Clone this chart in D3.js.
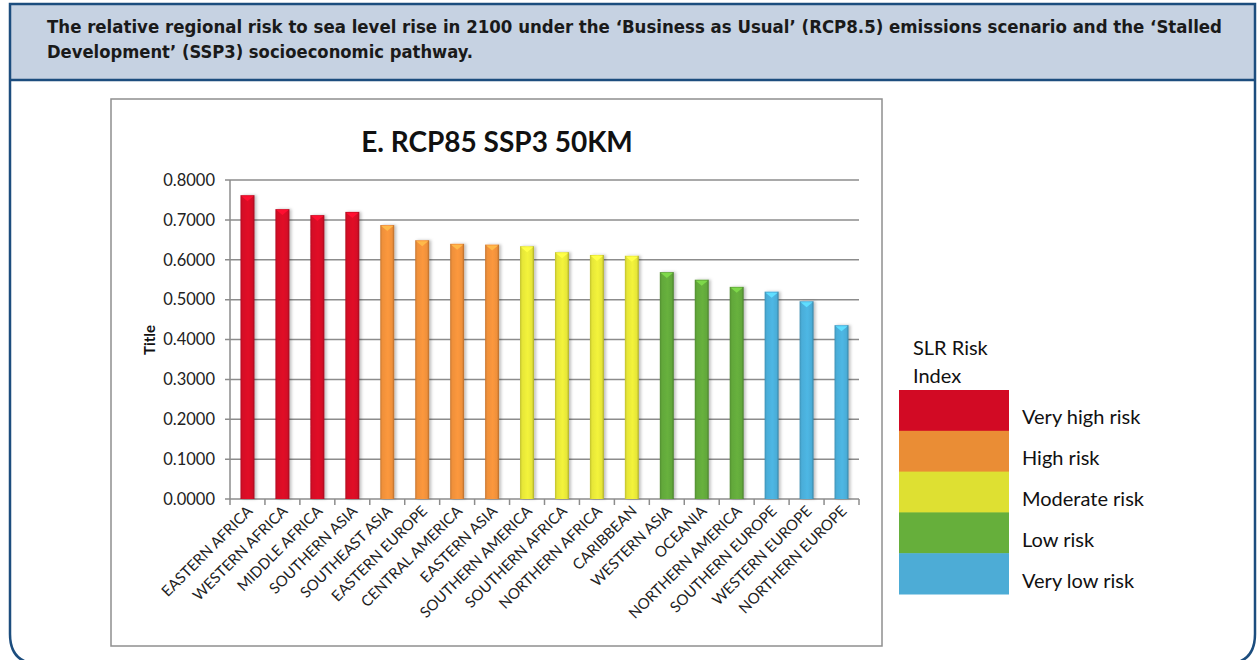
<!DOCTYPE html>
<html>
<head>
<meta charset="utf-8">
<script src="https://cdn.jsdelivr.net/npm/d3@7"></script>
<style>
  body { margin: 0; background: #fff; }
  svg { display: block; }
</style>
</head>
<body>
<svg id="chart" width="1257" height="660"></svg>
<script>
(function() {
  // data
  var regions = ["EASTERN AFRICA", "WESTERN AFRICA", "MIDDLE AFRICA", "SOUTHERN ASIA",
    "SOUTHEAST ASIA", "EASTERN EUROPE", "CENTRAL AMERICA", "EASTERN ASIA",
    "SOUTHERN AMERICA", "SOUTHERN AFRICA", "NORTHERN AFRICA", "CARIBBEAN",
    "WESTERN ASIA", "OCEANIA", "NORTHERN AMERICA", "SOUTHERN EUROPE",
    "WESTERN EUROPE", "NORTHERN EUROPE"];
  var riskValues = [0.762, 0.727, 0.712, 0.720, 0.687, 0.649, 0.640, 0.638,
    0.634, 0.619, 0.612, 0.610, 0.569, 0.550, 0.532, 0.520, 0.496, 0.436];
  var riskClass = [0, 0, 0, 0, 1, 1, 1, 1, 2, 2, 2, 2, 3, 3, 3, 4, 4, 4];
  var classNames = ["Very high risk", "High risk", "Moderate risk", "Low risk", "Very low risk"];
  var classColors = ["#d20a24", "#ea8d35", "#dee032", "#66af3b", "#4dacd6"];
  var barColors = ["#d50c26", "#ef903a", "#e6e638", "#62a83a", "#4aadd8"];
  var yTicks = [0, 0.1, 0.2, 0.3, 0.4, 0.5, 0.6, 0.7, 0.8];

  var headerLines = [
    "The relative regional risk to sea level rise in 2100 under the \u2018Business as Usual\u2019 (RCP8.5) emissions scenario and the \u2018Stalled",
    "Development\u2019 (SSP3) socioeconomic pathway."
  ];

  var svg = d3.select("#chart");
  var font = "Lato, 'Open Sans', sans-serif";

  // outer frame with header band
  var bx0 = 10, bx1 = 1255, by0 = 4, by1 = 664, r = 30;
  svg.append("rect")
      .attr("x", bx0).attr("y", by0)
      .attr("width", bx1 - bx0).attr("height", 76)
      .attr("fill", "#c6d2e2");
  svg.append("path")
      .attr("d", `M${bx0},${by0} L${bx1},${by0} L${bx1},${by1 - r} Q${bx1},${by1} ${bx1 - r},${by1} L${bx0 + r},${by1} Q${bx0},${by1} ${bx0},${by1 - r} Z`)
      .attr("fill", "none")
      .attr("stroke", "#1c4d7e")
      .attr("stroke-width", 2.5);
  svg.append("line")
      .attr("x1", bx0).attr("x2", bx1)
      .attr("y1", 80).attr("y2", 80)
      .attr("stroke", "#1c4d7e")
      .attr("stroke-width", 2.5);

  svg.append("g")
    .selectAll("text")
    .data(headerLines)
    .join("text")
      .attr("x", 47)
      .attr("y", (d, i) => 33 + i * 25)
      .attr("font-family", "'DejaVu Sans Condensed', 'Liberation Sans Narrow', sans-serif")
      .attr("font-weight", "bold")
      .attr("font-size", "17px")
      .attr("fill", "#1a1a1a")
      .attr("textLength", (d, i) => i === 0 ? 1175 : 426)
      .attr("lengthAdjust", "spacingAndGlyphs")
      .text(d => d);

  // chart frame
  svg.append("rect")
      .attr("x", 111).attr("y", 99)
      .attr("width", 771).attr("height", 547)
      .attr("fill", "#fff")
      .attr("stroke", "#8f8f8f")
      .attr("stroke-width", 1.5);

  svg.append("text")
      .attr("x", 497).attr("y", 152)
      .attr("text-anchor", "middle")
      .attr("font-family", font)
      .attr("font-weight", "bold")
      .attr("font-size", "28px")
      .attr("fill", "#111")
      .text("E. RCP85 SSP3 50KM");

  var x = d3.scaleBand()
      .domain(regions)
      .range([230, 859])
      .paddingInner(0.6)
      .paddingOuter(0.3);

  var y = d3.scaleLinear()
      .domain([0, 0.8])
      .range([499, 180]);

  // gridlines
  svg.append("g")
    .selectAll("line")
    .data(yTicks)
    .join("line")
      .attr("x1", 225).attr("x2", 859)
      .attr("y1", d => y(d)).attr("y2", d => y(d))
      .attr("stroke", "#8c8c8c")
      .attr("stroke-width", 1.5);

  svg.append("line")
      .attr("x1", 230).attr("x2", 230)
      .attr("y1", y(0.8)).attr("y2", y(0))
      .attr("stroke", "#8c8c8c")
      .attr("stroke-width", 1.5);

  svg.append("g")
    .selectAll("text")
    .data(yTicks)
    .join("text")
      .attr("x", 215)
      .attr("y", d => y(d))
      .attr("dy", "0.35em")
      .attr("text-anchor", "end")
      .attr("font-family", font)
      .attr("font-size", "16.5px")
      .attr("fill", "#222")
      .text(d => d.toFixed(4));

  svg.append("text")
      .attr("transform", "translate(155,340) rotate(-90)")
      .attr("text-anchor", "middle")
      .attr("font-family", font)
      .attr("font-weight", "bold")
      .attr("font-size", "15px")
      .attr("fill", "#111")
      .text("Title");

  // category ticks
  svg.append("g")
    .selectAll("line")
    .data(d3.range(regions.length + 1))
    .join("line")
      .attr("x1", i => 230 + i * (629 / regions.length))
      .attr("x2", i => 230 + i * (629 / regions.length))
      .attr("y1", y(0)).attr("y2", y(0) + 6)
      .attr("stroke", "#8c8c8c")
      .attr("stroke-width", 1.5);

  // bar gradients
  var defs = svg.append("defs");
  barColors.forEach((c, i) => {
    var base = d3.color(c);
    var g = defs.append("linearGradient")
        .attr("id", "bar" + i)
        .attr("x1", "0").attr("x2", "1").attr("y1", "0").attr("y2", "0");
    g.append("stop").attr("offset", "0%").attr("stop-color", base.darker(0.5));
    g.append("stop").attr("offset", "15%").attr("stop-color", base);
    g.append("stop").attr("offset", "55%").attr("stop-color", base.brighter(0.15));
    g.append("stop").attr("offset", "85%").attr("stop-color", base);
    g.append("stop").attr("offset", "100%").attr("stop-color", base.darker(0.8));
  });
  defs.append("filter")
      .attr("id", "shadow")
      .attr("x", "-50%").attr("width", "200%")
    .append("feDropShadow")
      .attr("dx", 2).attr("dy", 0)
      .attr("stdDeviation", 1.5)
      .attr("flood-color", "#000")
      .attr("flood-opacity", 0.25);

  var data = regions.map((d, i) => ({ name: d, value: riskValues[i], cls: riskClass[i] }));

  var bars = svg.append("g")
    .selectAll("g")
    .data(data)
    .join("g");

  bars.append("rect")
      .attr("x", d => x(d.name))
      .attr("y", d => y(d.value))
      .attr("width", x.bandwidth())
      .attr("height", d => y(0) - y(d.value))
      .attr("fill", d => `url(#bar${d.cls})`)
      .attr("filter", "url(#shadow)");

  bars.append("path")
      .attr("d", d => {
        var x0 = x(d.name), w = x.bandwidth(), t = y(d.value);
        return `M${x0 + 1},${t + 1} L${x0 + w - 1},${t + 1} L${x0 + w / 2},${t + 6} Z`;
      })
      .attr("fill", d => d3.color(barColors[d.cls]).brighter(0.7));

  // category labels
  svg.append("g")
    .selectAll("text")
    .data(regions)
    .join("text")
      .attr("transform", d => `translate(${x(d) + x.bandwidth() / 2 + 6},${y(0) + 13}) rotate(-45)`)
      .attr("text-anchor", "end")
      .attr("font-family", font)
      .attr("font-size", "15px")
      .attr("fill", "#222")
      .text(d => d);

  // legend
  var legend = svg.append("g");
  legend.selectAll("text.title")
    .data(["SLR Risk", "Index"])
    .join("text")
      .attr("class", "title")
      .attr("x", 913)
      .attr("y", (d, i) => 355 + i * 28)
      .attr("font-family", font)
      .attr("font-size", "20px")
      .attr("fill", "#111")
      .text(d => d);

  var ly = d3.scaleBand()
      .domain(classNames)
      .range([390, 594]);

  legend.selectAll("rect")
    .data(classNames)
    .join("rect")
      .attr("x", 899)
      .attr("y", d => ly(d))
      .attr("width", 110)
      .attr("height", ly.bandwidth() + 0.5)
      .attr("fill", (d, i) => classColors[i]);

  legend.selectAll("text.item")
    .data(classNames)
    .join("text")
      .attr("class", "item")
      .attr("x", 1022)
      .attr("y", d => ly(d) + ly.bandwidth() / 2 + 7)
      .attr("dy", "0.35em")
      .attr("font-family", font)
      .attr("font-size", "20px")
      .attr("fill", "#111")
      .text(d => d);
})();
</script>
</body>
</html>
